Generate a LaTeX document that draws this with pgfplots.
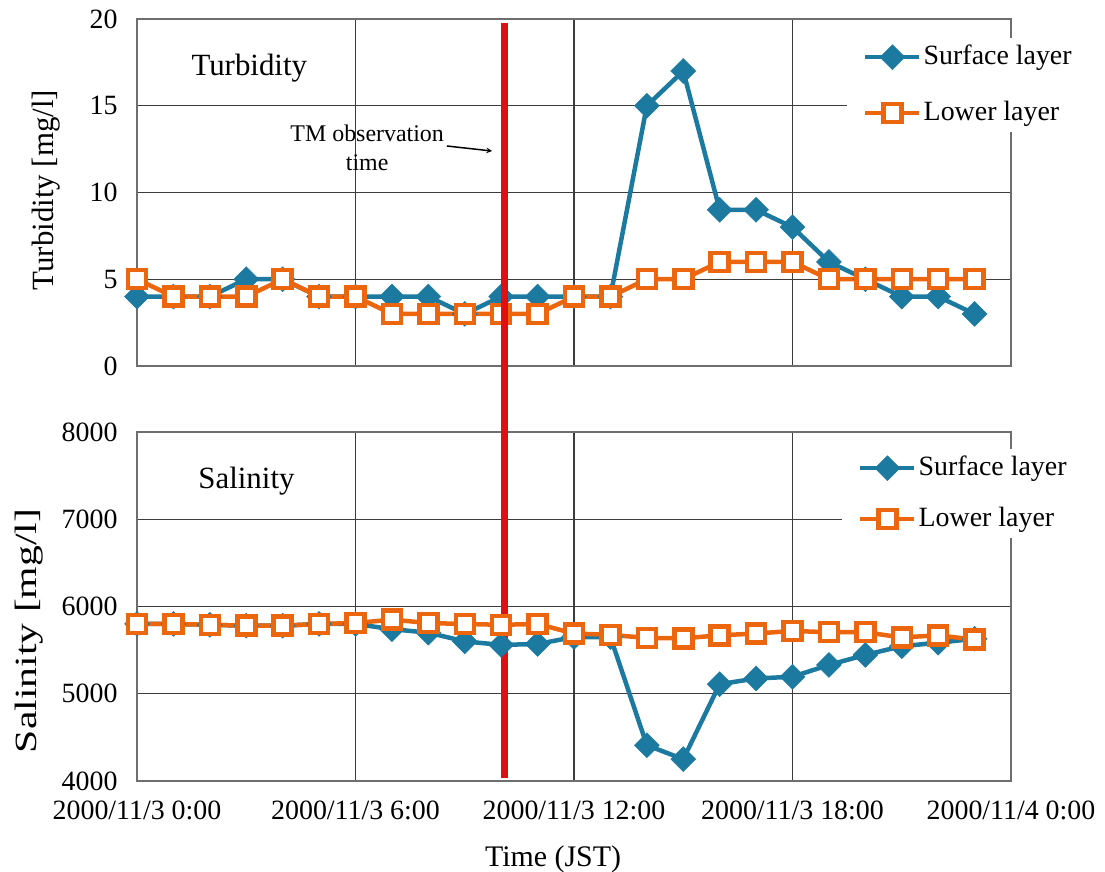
\documentclass[border=0pt]{standalone}
\usepackage{fontspec}
\setmainfont{Liberation Serif}
\newfontfamily\wideserif[FakeStretch=1.35]{Liberation Serif}
\usepackage{pgfplots}
\pgfplotsset{compat=1.18}
\usepackage{pgfplotstable}
\definecolor{surf}{RGB}{28,122,160}
\definecolor{low}{RGB}{236,102,14}
\definecolor{redline}{RGB}{225,15,15}
\definecolor{gridc}{RGB}{60,60,60}
\definecolor{framec}{RGB}{110,110,110}

\pgfplotstableread{
h surf low
0 4 5
1 4 4
2 4 4
3 5 4
4 5 5
5 4 4
6 4 4
7 4 3
8 4 3
9 3 3
10 4 3
11 4 3
12 4 4
13 4 4
14 15 5
15 17 5
16 9 6
17 9 6
18 8 6
19 6 5
20 5 5
21 4 5
22 4 5
23 3 5
}\turb

\pgfplotstableread{
h surf low
0 5800 5800
1 5800 5800
2 5790 5790
3 5780 5780
4 5780 5780
5 5800 5800
6 5800 5810
7 5740 5850
8 5700 5810
9 5600 5800
10 5560 5790
11 5570 5800
12 5650 5690
13 5650 5675
14 4410 5640
15 4250 5635
16 5110 5670
17 5175 5690
18 5195 5720
19 5330 5705
20 5445 5705
21 5545 5645
22 5585 5670
23 5630 5620
}\sal

\pgfplotsset{
 mystyle/.style={
  scale only axis, width=874bp, xmin=0, xmax=24, xtick={0,6,12,18,24},
  grid=major, major grid style={draw=gridc, line width=1.3bp},
  axis line style={draw=framec, line width=1.8bp},
  major tick length=0pt,
  tick label style={font=\fontsize{28}{32}\selectfont},
  /pgf/number format/assume math mode=true,
  /pgf/number format/1000 sep={},
  scaled y ticks=false,
  yticklabel style={xshift=-16bp},
  xticklabel style={yshift=-16bp},
  legend cell align=left,
  legend image code/.code={\draw[mark repeat=2,mark phase=2,##1] plot coordinates {(0bp,0bp) (27bp,0bp) (54bp,0bp)};},
 },
 surfstyle/.style={color=surf, line width=4.5bp, mark=square*, mark size=8.8bp, mark options={rotate=45, fill=surf, line width=0.5bp}},
 lowstyle/.style={color=low, line width=4.5bp, mark=square*, mark size=9bp, mark options={fill=white, line width=4.5bp}},
}

\begin{document}
\begin{tikzpicture}
\useasboundingbox (0,0) rectangle (1105bp,872bp);

\begin{axis}[mystyle,
  at={(137bp,506bp)}, anchor=south west, height=347bp,
  ymin=0, ymax=20, ytick={0,5,10,15,20},
  xticklabels={},
  ylabel={Turbidity [mg/l]},
  ylabel style={at={(axis description cs:-0.1041,0.507)}, anchor=center, font=\fontsize{31}{36}\selectfont},
  legend style={at={(rel axis cs:0.8124,0.9452)}, anchor=north west, draw=none, fill=white,
    inner xsep=16bp, inner ysep=6bp, font=\fontsize{28}{32}\selectfont,
    row sep=30bp, column sep=2bp, nodes={inner sep=0pt, text height=20bp, text depth=6bp}},
]
\addplot[surfstyle] table[x=h, y=surf] {\turb};
\addlegendentry{Surface layer}
\addplot[lowstyle] table[x=h, y=low] {\turb};
\addlegendentry{Lower layer}
\node[anchor=west, font=\fontsize{31}{36}\selectfont] at (axis cs:1.4,17.18) {Turbidity};
\node[align=center, font=\fontsize{24}{29}\selectfont] at (axis cs:6.32,12.6) {TM observation\\time};
\draw[-stealth, line width=1.5bp] (axis cs:8.51,12.68) -- (axis cs:9.75,12.39);
\end{axis}

\begin{axis}[mystyle,
  at={(137bp,91bp)}, anchor=south west, height=349bp,
  clip=false,
  ymin=4000, ymax=8000, ytick={4000,5000,6000,7000,8000},
  xticklabels={2000/11/3 0:00, 2000/11/3 6:00, 2000/11/3 12:00, 2000/11/3 18:00, 2000/11/4 0:00},
  xlabel={Time (JST)},
  xlabel style={at={(axis description cs:0.476,-0.2464)}, anchor=base, font=\fontsize{30}{36}\selectfont},
  ylabel={\wideserif Salinity [mg/l]},
  ylabel style={at={(axis description cs:-0.1236,0.43)}, anchor=center, font=\fontsize{31}{36}\selectfont},
  legend style={at={(rel axis cs:0.8066,0.9513)}, anchor=north west, draw=none, fill=white,
    inner xsep=16bp, inner ysep=6bp, font=\fontsize{28}{32}\selectfont,
    row sep=25bp, column sep=2bp, nodes={inner sep=0pt, text height=20bp, text depth=6bp}},
]
\addplot[surfstyle] table[x=h, y=surf] {\sal};
\addlegendentry{Surface layer}
\addplot[lowstyle] table[x=h, y=low] {\sal};
\addlegendentry{Lower layer}
\node[anchor=west, font=\fontsize{31}{36}\selectfont] at (axis cs:1.59,7438) {Salinity};
\draw[redline, line width=7bp] (axis cs:10.1,4034) -- (axis cs:10.1,12688);
\end{axis}
\end{tikzpicture}
\end{document}
